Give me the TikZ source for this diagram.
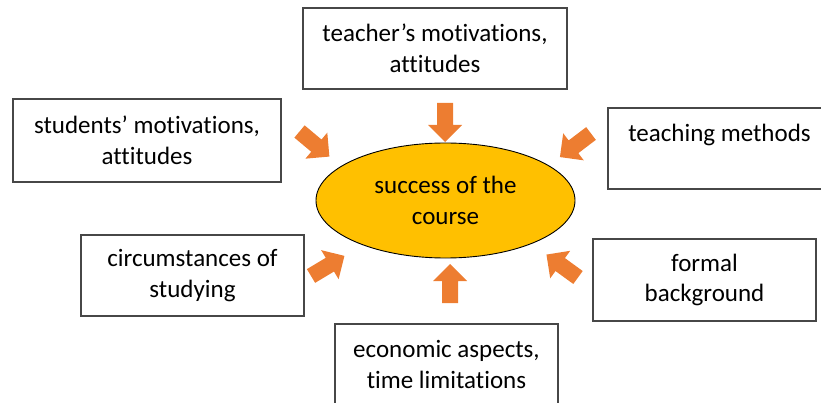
\documentclass[tikz,border=0pt]{standalone}
\usepackage{fontspec}
\setmainfont{Carlito}[Ligatures={NoCommon,NoContextual}]
\usetikzlibrary{shapes.geometric}
\definecolor{arrowor}{HTML}{ED7D31}
\definecolor{ellfill}{HTML}{FFC000}
\begin{document}
\begin{tikzpicture}[x=1pt,y=-1pt,
  box/.style={draw=black!72, line width=1.1pt, fill=white, align=center, inner sep=0pt,
    font=\fontsize{25}{30.5}\selectfont},
  centre/.style={ellipse, draw=black, line width=0.9pt, fill=ellfill, align=center, inner sep=0pt,
    minimum width=259pt, minimum height=115pt, font=\fontsize{25}{30.5}\selectfont},
  barrow/.pic={\fill[arrowor] (0,-8) -- (22,-8) -- (22,-17) -- (39,0) -- (22,17) -- (22,8) -- (0,8) -- cycle;}
]
\useasboundingbox (0,0) rectangle (821,403);
\clip (0,0) rectangle (821,403);

\node[centre] (c) at (445.5,200.5) {success of the\\course};

\node[box, minimum width=264pt, minimum height=81pt] (teacher) at (435,48.5) {teacher’s motivations,\\attitudes};
\node[box, minimum width=268pt, minimum height=83pt] (students) at (147,140.5) {students’ motivations,\\attitudes};
\node[box, minimum width=223pt, minimum height=81pt] (circ) at (192.5,275.5) {circumstances of\\studying};
\node[box, minimum width=223pt, minimum height=81pt] (teach) at (719.5,148.5) {teaching methods\\\phantom{x}};
\node[box, minimum width=223pt, minimum height=82pt] (formal) at (704.5,280) {formal\\background};
\node[box, minimum width=223pt, minimum height=81pt] (econ) at (446.5,364.5) {economic aspects,\\time limitations};

\pic[rotate=-90] at (445,103) {barrow};
\pic[rotate=90] at (450,303) {barrow};
\pic[rotate=-40] at (299.5,131.5) {barrow};
\pic[rotate=31] at (311,276) {barrow};
\pic[rotate=-142.8] at (591,133.5) {barrow};
\pic[rotate=144] at (578,277.5) {barrow};
\end{tikzpicture}
\end{document}
